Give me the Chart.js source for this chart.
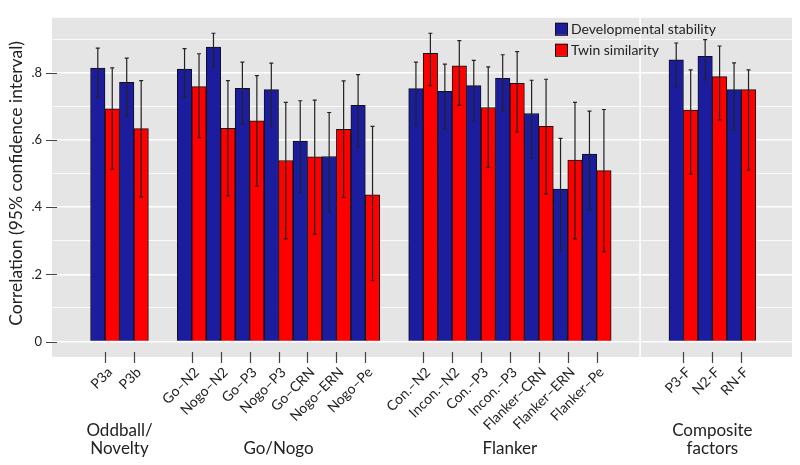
<!DOCTYPE html>
<html lang="en">
<head>
<meta charset="UTF-8">
<title>Correlation chart</title>
<script src="https://cdn.jsdelivr.net/npm/chart.js@4/dist/chart.umd.min.js"></script>
<style>
  html, body { margin: 0; padding: 0; background: #fff; }
</style>
</head>
<body>
<canvas id="myChart" width="800" height="465"></canvas>
<script>
// categories, in plot order
const labels = ['P3a', 'P3b',
  'Go–N2', 'Nogo–N2', 'Go–P3', 'Nogo–P3', 'Go–CRN', 'Nogo–ERN', 'Nogo–Pe',
  'Con.–N2', 'Incon.–N2', 'Con.–P3', 'Incon.–P3', 'Flanker–CRN', 'Flanker–ERN', 'Flanker–Pe',
  'P3-F', 'N2-F', 'RN-F'];
const groupNames = [['Oddball/', 'Novelty'], ['Go/Nogo'], ['Flanker'], ['Composite', 'factors']];
const groupSizes = [2, 7, 7, 3];
const groupGaps = [1, 1, 2]; // empty slots between groups

// Developmental stability: estimate and 95% CI
const devStability = [0.814, 0.772, 0.811, 0.877, 0.754, 0.750, 0.597, 0.551, 0.703,
  0.753, 0.745, 0.762, 0.784, 0.679, 0.454, 0.558, 0.839, 0.849, 0.750];
const devLow = [0.728, 0.671, 0.727, 0.818, 0.648, 0.642, 0.443, 0.387, 0.579,
  0.644, 0.634, 0.656, 0.687, 0.547, 0.270, 0.393, 0.758, 0.779, 0.630];
const devHigh = [0.874, 0.844, 0.872, 0.918, 0.832, 0.829, 0.717, 0.682, 0.795,
  0.832, 0.826, 0.837, 0.854, 0.778, 0.605, 0.686, 0.889, 0.899, 0.830];

// Twin similarity: estimate and 95% CI
const twinSimilarity = [0.693, 0.634, 0.759, 0.635, 0.657, 0.539, 0.550, 0.632, 0.437,
  0.858, 0.821, 0.697, 0.769, 0.641, 0.540, 0.509, 0.689, 0.789, 0.750];
const twinLow = [0.513, 0.431, 0.607, 0.434, 0.463, 0.306, 0.320, 0.429, 0.181,
  0.762, 0.703, 0.519, 0.624, 0.440, 0.306, 0.268, 0.499, 0.660, 0.510];
const twinHigh = [0.815, 0.777, 0.857, 0.777, 0.792, 0.712, 0.719, 0.776, 0.641,
  0.918, 0.896, 0.818, 0.863, 0.781, 0.712, 0.691, 0.809, 0.880, 0.809];

const yTicks = [0, 0.1, 0.2, 0.3, 0.4, 0.5, 0.6, 0.7, 0.8, 0.9];

// x positions with blank slots between groups
const xPos = [];
let p = 0;
groupSizes.forEach((n, g) => {
  for (let i = 0; i < n; i++) xPos.push(p++);
  p += groupGaps[g] || 0;
});
const groupStart = [];
let s = 0;
groupSizes.forEach(n => { groupStart.push(s); s += n; });
const sepValue = (xPos[groupStart[3] - 1] + xPos[groupStart[3]]) / 2;

const FONT = 'Lato, "Open Sans", sans-serif';
const BLUE = '#1c1c9e';
const RED = '#ff0000';
const PANEL = '#e5e5e5';
const INK = '#222';

const isMajor = v => Math.round(v * 10) % 2 === 0;
const fmt = v => v === 0 ? '0' : v.toFixed(1).replace(/^0/, '');

const errLows = [devLow, twinLow];
const errHighs = [devHigh, twinHigh];

const decor = {
  id: 'decor',
  beforeDraw(chart) {
    const a = chart.chartArea, ctx = chart.ctx;
    ctx.save();
    ctx.fillStyle = PANEL;
    ctx.fillRect(a.left, a.top, a.right - a.left, a.bottom - a.top);
    ctx.restore();
  },
  beforeDatasetsDraw(chart) {
    const a = chart.chartArea, ctx = chart.ctx;
    const x = chart.scales.x.getPixelForValue(sepValue);
    ctx.save();
    ctx.strokeStyle = '#fff';
    ctx.lineWidth = 1.6;
    ctx.beginPath();
    ctx.moveTo(x, a.top);
    ctx.lineTo(x, a.bottom);
    ctx.stroke();
    ctx.restore();
  },
  afterDatasetsDraw(chart) {
    const ctx = chart.ctx, ys = chart.scales.y;
    ctx.save();
    ctx.strokeStyle = INK;
    ctx.lineWidth = 1.2;
    chart.data.datasets.forEach((ds, di) => {
      chart.getDatasetMeta(di).data.forEach((bar, i) => {
        const hi = ys.getPixelForValue(errHighs[di][i]);
        const lo = ys.getPixelForValue(errLows[di][i]);
        ctx.beginPath();
        ctx.moveTo(bar.x, hi); ctx.lineTo(bar.x, lo);
        ctx.moveTo(bar.x - 2, hi); ctx.lineTo(bar.x + 2, hi);
        ctx.moveTo(bar.x - 2, lo); ctx.lineTo(bar.x + 2, lo);
        ctx.stroke();
      });
    });
    ctx.restore();
  },
  afterDraw(chart) {
    const a = chart.chartArea, ctx = chart.ctx;
    const xs = chart.scales.x, ys = chart.scales.y;
    ctx.save();
    // tick marks
    ctx.strokeStyle = '#444';
    ctx.lineWidth = 1.2;
    ctx.beginPath();
    xPos.forEach(v => {
      const x = Math.round(xs.getPixelForValue(v)) + 0.5;
      ctx.moveTo(x, a.bottom - 5); ctx.lineTo(x, a.bottom + 6);
    });
    yTicks.filter(isMajor).forEach(v => {
      const y = Math.round(ys.getPixelForValue(v)) + 0.5;
      ctx.moveTo(a.left - 6, y); ctx.lineTo(a.left + 5, y);
    });
    ctx.stroke();

    // rotated category labels
    ctx.fillStyle = INK;
    ctx.font = '14px ' + FONT;
    ctx.textAlign = 'right';
    ctx.textBaseline = 'top';
    labels.forEach((lab, i) => {
      ctx.save();
      ctx.translate(xs.getPixelForValue(xPos[i]), a.bottom + 8);
      ctx.rotate(-Math.PI / 4);
      ctx.fillText(lab, 0, 0);
      ctx.restore();
    });

    // group labels
    ctx.font = '17px ' + FONT;
    ctx.textAlign = 'center';
    ctx.textBaseline = 'middle';
    groupNames.forEach((lines, g) => {
      const x0 = xs.getPixelForValue(xPos[groupStart[g]]);
      const x1 = xs.getPixelForValue(xPos[groupStart[g] + groupSizes[g] - 1]);
      const cx = (x0 + x1) / 2;
      const base = a.bottom + 92 - (lines.length - 1) * 18;
      lines.forEach((t, k) => ctx.fillText(t, cx, base + k * 18));
    });

    // y title
    ctx.save();
    ctx.font = '17.5px ' + FONT;
    ctx.translate(16, (a.top + a.bottom) / 2 - 4);
    ctx.rotate(-Math.PI / 2);
    ctx.fillText('Correlation (95% confidence interval)', 0, 0);
    ctx.restore();

    // legend
    const lx = a.right - 237, ly = a.top + 5;
    ctx.font = '14px ' + FONT;
    ctx.textAlign = 'left';
    chart.data.datasets.forEach((ds, di) => {
      const y = ly + di * 21;
      ctx.fillStyle = ds.backgroundColor;
      ctx.fillRect(lx, y, 12, 12);
      ctx.strokeStyle = '#111';
      ctx.lineWidth = 1;
      ctx.strokeRect(lx + 0.5, y + 0.5, 12, 12);
      ctx.fillStyle = INK;
      ctx.fillText(ds.label, lx + 16, y + 7);
    });
    ctx.restore();
  }
};

const ctx = document.getElementById('myChart').getContext('2d');
new Chart(ctx, {
  type: 'bar',
  data: {
    datasets: [{
      label: 'Developmental stability',
      data: xPos.map((x, i) => ({ x: x, y: devStability[i] })),
      backgroundColor: BLUE,
      borderColor: '#111',
      borderWidth: 1,
      categoryPercentage: 1,
      barPercentage: 1
    }, {
      label: 'Twin similarity',
      data: xPos.map((x, i) => ({ x: x, y: twinSimilarity[i] })),
      backgroundColor: RED,
      borderColor: '#111',
      borderWidth: 1,
      categoryPercentage: 1,
      barPercentage: 1
    }]
  },
  options: {
    responsive: false,
    devicePixelRatio: 1,
    animation: false,
    layout: { padding: { top: 7, right: 8, left: 0, bottom: 0 } },
    plugins: { legend: { display: false }, tooltip: { enabled: false } },
    scales: {
      x: {
        type: 'linear',
        min: -1.16,
        max: 23.08,
        grid: { display: false },
        border: { display: false },
        ticks: { display: false },
        afterBuildTicks: axis => { axis.ticks = xPos.map(v => ({ value: v })); },
        afterFit: axis => { axis.height = 108; }
      },
      y: {
        min: -0.046,
        max: 0.964,
        border: { display: false },
        grid: {
          color: '#fff',
          lineWidth: c => isMajor(c.tick.value) ? 1.6 : 0.8,
          drawTicks: false
        },
        ticks: {
          padding: 10,
          color: INK,
          font: { family: FONT, size: 13 },
          callback: v => isMajor(v) ? fmt(v) : ''
        },
        afterBuildTicks: axis => { axis.ticks = yTicks.map(v => ({ value: v })); },
        afterFit: axis => { axis.width = 52; }
      }
    }
  },
  plugins: [decor]
});
</script>
</body>
</html>
